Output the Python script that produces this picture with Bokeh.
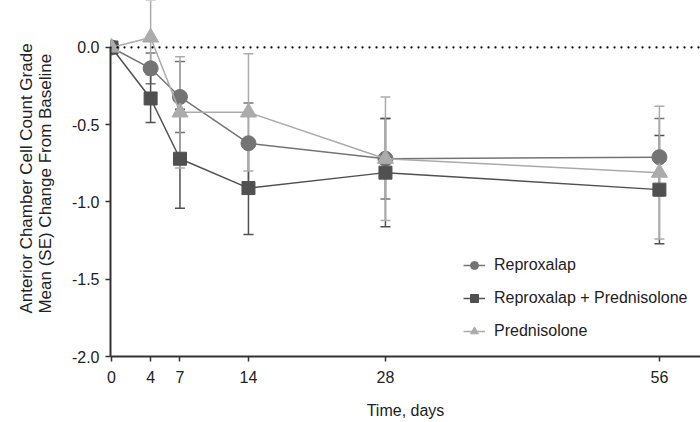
from bokeh.plotting import figure
from bokeh.models import (ColumnDataSource, Whisker, TeeHead, Span, Legend, LegendItem,
                          FixedTicker, Title)
from bokeh.embed import file_html
from bokeh.resources import INLINE

days = [0, 4, 7, 14, 28, 56]
x_ticks = [0, 4, 7, 14, 28, 56]
y_ticks = [0.0, -0.5, -1.0, -1.5, -2.0]
y_tick_labels = ["0.0", "-0.5", "-1.0", "-1.5", "-2.0"]

series_names = ["Reproxalap", "Reproxalap + Prednisolone", "Prednisolone"]
reprox_mean = [0.0, -0.135, -0.32, -0.62, -0.72, -0.71]
reprox_se = [0.0, 0.10, 0.23, 0.26, 0.26, 0.25]
combo_mean = [0.0, -0.33, -0.72, -0.91, -0.81, -0.92]
combo_se = [0.0, 0.155, 0.32, 0.30, 0.35, 0.35]
pred_mean = [0.0, 0.065, -0.42, -0.42, -0.72, -0.81]
pred_se = [0.0, 0.24, 0.36, 0.38, 0.40, 0.43]

y_title = "Anterior Chamber Cell Count Grade\nMean (SE) Change From Baseline"
x_title = "Time, days"

FONT = "Liberation Sans"

p = figure(width=700, height=422, output_backend="svg", toolbar_location=None,
           x_range=(-0.1, 60.2), y_range=(-2.0, 0.304),
           min_border_left=110, min_border_right=0, min_border_top=0, min_border_bottom=66)
p.xgrid.visible = False
p.ygrid.visible = False
p.outline_line_color = None
p.background_fill_color = "white"

# zero reference line
p.add_layout(Span(location=0, dimension="width", line_color="black", line_width=2.2,
                  line_dash="0 7", line_cap="round"))

styles = [
    (reprox_mean, reprox_se, "#747474", "circle", 15),
    (combo_mean, combo_se, "#505050", "square", 13),
    (pred_mean, pred_se, "#ababab", "triangle", 16),
]

items = []
for (mean, se, color, marker, size), name in zip(styles, series_names):
    src = ColumnDataSource(dict(
        x=days, y=mean,
        upper=[m + s for m, s in zip(mean, se)],
        lower=[m - s for m, s in zip(mean, se)],
    ))
    w = Whisker(source=src, base="x", upper="upper", lower="lower",
                line_color=color, line_width=1.5, level="underlay",
                upper_head=TeeHead(size=10, line_color=color, line_width=1.5),
                lower_head=TeeHead(size=10, line_color=color, line_width=1.5))
    p.add_layout(w)
    ln = p.line("x", "y", source=src, line_color=color, line_width=1.5)
    sc = p.scatter("x", "y", source=src, marker=marker, size=size,
                   fill_color=color, line_color=color)
    items.append(LegendItem(label=name, renderers=[ln, sc]))

legend = Legend(items=items, location=(353, 15), border_line_color=None,
                background_fill_alpha=0, padding=0, margin=0, spacing=13,
                glyph_width=22, glyph_height=20, label_height=20,
                label_standoff=9, label_text_font=FONT, label_text_font_size="16px",
                label_text_color="#222222")
p.add_layout(legend)

# axes
p.xaxis.ticker = FixedTicker(ticks=x_ticks)
p.yaxis.ticker = FixedTicker(ticks=y_ticks)
p.yaxis.major_label_overrides = {t: l for t, l in zip(y_ticks, y_tick_labels)}
p.yaxis.bounds = (-2.0, 0.0)
for ax in (p.xaxis, p.yaxis):
    ax.axis_line_color = "#333333"
    ax.axis_line_width = 2
    ax.major_tick_line_color = "#333333"
    ax.major_tick_line_width = 1.5
    ax.major_tick_in = 0
    ax.major_tick_out = 5
    ax.minor_tick_line_color = None
    ax.major_label_text_font = FONT
    ax.major_label_text_font_size = "16px"
    ax.major_label_text_color = "#222222"
    ax.axis_label_text_font = FONT
    ax.axis_label_text_font_style = "normal"
    ax.axis_label_text_color = "#222222"

p.xaxis.axis_label = x_title
p.xaxis.axis_label_text_font_size = "16px"
p.xaxis.major_label_standoff = 9
p.xaxis.axis_label_standoff = 16
p.yaxis.major_label_standoff = 6

# y-axis title as a two-line side title
p.add_layout(Title(text=y_title, align="center", standoff=26,
                   text_font=FONT, text_font_size="17px", text_font_style="normal",
                   text_line_height=1.05, text_color="#222222"), "left")

open("out.html", "w").write(file_html(p, INLINE))
